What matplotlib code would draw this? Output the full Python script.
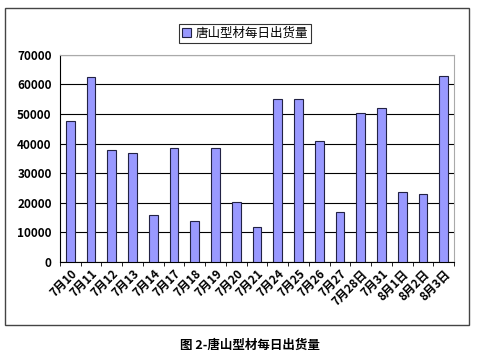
import matplotlib.pyplot as plt
import matplotlib.patches as patches
import numpy as np

plt.rcParams['font.family'] = ['Noto Sans CJK SC', 'DejaVu Sans']

dates = ['7月10', '7月11', '7月12', '7月13', '7月14', '7月17', '7月18', '7月19',
         '7月20', '7月21', '7月24', '7月25', '7月26', '7月27', '7月28日', '7月31',
         '8月1日', '8月2日', '8月3日']
volume = [47500, 62500, 37800, 36900, 16000, 38400, 14000, 38400,
          20200, 11700, 55200, 55200, 41000, 16900, 50400, 52000,
          23500, 23000, 63000]
yticks = [0, 10000, 20000, 30000, 40000, 50000, 60000, 70000]

fig = plt.figure(figsize=(5, 3.54), dpi=100)
fig.patches.append(patches.Rectangle((0.01, 0.082), 0.928, 0.895, transform=fig.transFigure,
                                     fill=False, edgecolor='#444444', linewidth=1))

ax = fig.add_axes([0.12, 0.26, 0.788, 0.585])
x = np.arange(len(dates))
ax.bar(x, volume, width=0.42, color='#9999ff', edgecolor='#222244', linewidth=0.8,
       label='唐山型材每日出货量', zorder=3)
ax.set_xlim(-0.5, len(dates) - 0.5)
ax.set_ylim(0, 70000)
ax.set_yticks(yticks)
ax.set_yticklabels([str(v) for v in yticks], fontsize=8.5, fontweight='bold')
ax.yaxis.grid(True, color='black', linewidth=0.8, zorder=0)
ax.tick_params(axis='y', length=0, pad=6)
ax.set_xticks(x)
ax.set_xticklabels(dates, rotation=45, ha='right', rotation_mode='anchor', fontsize=8.5,
                   fontweight='bold')
ax.tick_params(axis='x', length=0, pad=4)
ax.set_xticks(np.arange(-0.5, len(dates)), minor=True)
ax.tick_params(axis='x', which='minor', length=3, color='black')
for s in ['top', 'right']:
    ax.spines[s].set_color('#aaaaaa')
for s in ['left', 'bottom']:
    ax.spines[s].set_color('black')

leg = fig.legend(loc='center', bbox_to_anchor=(0.49, 0.905), fontsize=9, frameon=True,
                 fancybox=False, edgecolor='black', handlelength=0.7, handleheight=0.7,
                 borderpad=0.25, handletextpad=0.4)
leg.get_frame().set_linewidth(0.8)

fig.text(0.5, 0.025, '图 2-唐山型材每日出货量', ha='center', va='center', fontsize=9,
         fontweight='bold')

fig.savefig('out.png', dpi=100)
